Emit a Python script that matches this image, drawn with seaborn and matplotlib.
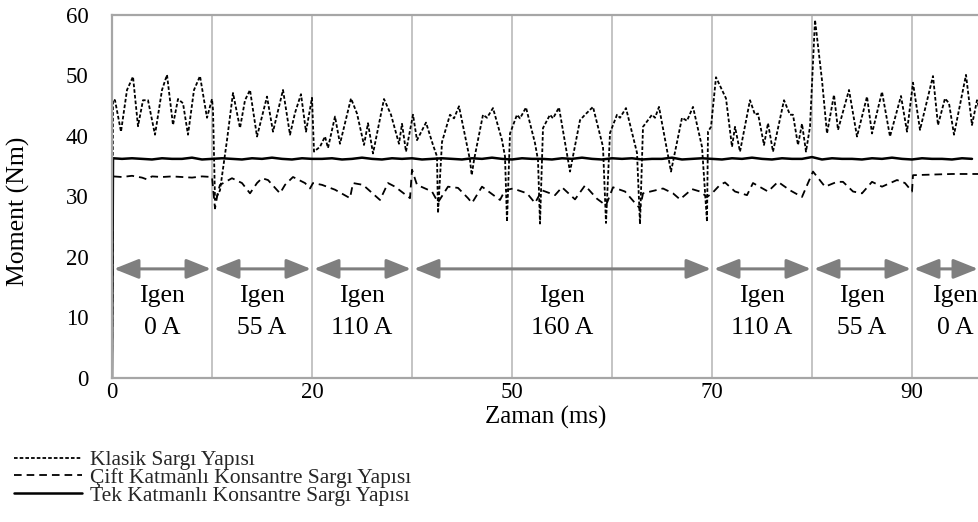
import matplotlib
matplotlib.use("Agg")
import matplotlib.pyplot as plt
import seaborn as sns
from matplotlib.lines import Line2D

# ---- data (x in grid units, one grid cell = 10) ----
klasik_t = [0, 0.1, 0.3, 0.9, 1.5, 2.1, 2.6, 3.1, 3.6, 4.3, 5.0, 5.5, 6.1, 6.6, 7.1, 7.6, 8.2, 8.8, 9.5, 10.0,
            10.1, 10.3, 10.8, 11.5, 12.1, 12.8, 13.3, 13.8, 14.5, 15.5, 16.1, 17.1, 17.8, 18.3, 18.9, 19.4, 20.0,
            20.2, 20.8, 21.3, 21.6, 22.3, 22.8, 23.9, 24.5, 25.2, 25.6, 26.1, 27.2, 27.9, 28.7, 29.0, 29.4, 30.1,
            30.5, 31.4, 32.1, 32.5, 32.6, 33.0, 33.8, 34.2, 34.7, 35.8, 35.97, 36.2, 37.1, 37.5, 38.1, 39.0, 39.3, 39.5, 39.8,
            40.5, 40.8, 41.4, 42.3, 42.6, 42.8, 43.1, 43.8, 44.1, 44.7, 45.8, 46.8, 47.3, 48.1, 49.1, 49.4, 49.8,
            50.5, 50.8, 51.4, 52.5, 52.8, 53.1, 54.0, 54.3, 54.7, 55.9, 57.0, 57.5, 58.1, 59.0, 59.5, 59.6, 59.9,
            60.4, 61.4, 62.0, 62.3, 62.8, 63.8, 64.3, 64.6, 65.2, 65.6, 66.1, 67.2, 67.8, 68.1, 68.6, 69.0, 69.4, 69.8,
            70.3, 71.0, 71.5, 72.2, 72.6, 73.7, 74.5, 75.5, 76.0, 77.0, 77.8, 78.9, 79.5, 80.1, 80.8, 82.1, 82.6,
            83.3, 83.7, 84.2, 85.4, 86.0, 86.5, 86.8]
klasik_v = [0, 46.0, 45.9, 40.7, 47.6, 49.8, 41.6, 45.9, 45.9, 40.2, 47.6, 50.1, 41.8, 46.1, 45.4, 40.2, 47.6, 49.9, 43.0, 46.1,
            44.3, 29.4, 31.0, 39.3, 47.1, 41.3, 45.9, 47.6, 39.9, 46.5, 40.7, 47.6, 40.2, 43.8, 46.9, 40.7, 46.3,
            37.4, 38.2, 39.9, 38.0, 43.2, 38.7, 46.2, 43.7, 38.5, 42.1, 37.1, 46.1, 43.5, 38.7, 42.0, 37.4, 43.5,
            39.3, 42.2, 38.5, 36.6, 27.2, 39.0, 43.5, 42.9, 44.9, 36.0, 33.5, 36.0, 43.5, 43.0, 44.6, 39.3, 36.6, 25.8, 40.4,
            43.5, 42.9, 44.7, 38.8, 36.0, 25.5, 41.3, 43.5, 42.9, 44.7, 34.1, 42.6, 43.5, 44.8, 38.2, 25.6, 40.5,
            43.5, 43.0, 44.6, 37.2, 25.4, 41.5, 43.5, 43.0, 44.8, 34.1, 43.0, 42.5, 44.8, 38.2, 25.8, 40.7, 41.5,
            49.7, 46.2, 38.2, 41.5, 37.4, 45.9, 43.5, 43.7, 38.5, 42.1, 37.4, 45.9, 43.5, 43.5, 38.5, 42.0, 37.4, 41.5,
            59.2, 49.2, 40.4, 46.8, 41.0, 47.6, 39.9, 46.5, 40.4, 47.3, 39.9, 46.6, 40.7, 48.8, 41.0, 49.9, 41.8,
            46.2, 45.4, 40.2, 50.1, 41.8, 45.9, 44.0]

cift_t = [0, 0.1, 1, 2, 3, 3.5, 4, 5, 6, 7, 8, 9, 10.0, 10.3,
          10.6, 10.8, 12.0, 13.0, 13.8, 14.5, 15.0, 15.6, 16.8, 17.3, 18.1, 19.3, 19.8,
          20.1, 21.0, 22.3, 23.8, 24.1, 25.1, 26.8, 27.6, 28.3, 29.8,
          30.0, 30.5, 32.0, 32.6, 33.6, 34.6, 35.6, 36.0, 37.0, 38.8, 39.3,
          40.1, 41.5, 42.3, 43.0, 44.3, 45.0, 46.3, 47.3, 48.5, 49.4,
          50.1, 51.3, 52.3, 52.8, 53.1, 55.1, 56.1, 56.8, 58.0, 58.8, 59.5,
          60.0, 60.8, 61.3, 62.3, 63.5, 64.1, 65.6, 66.6, 67.8, 69.0, 69.6,
          70.1, 71.3, 72.5, 73.1, 74.1, 75.0, 76.0, 77.0, 78.5, 79.3, 80.0,
          80.1, 82.0, 84.0, 86.8]
cift_v = [0, 33.3, 33.2, 33.4, 33.1, 32.8, 33.3, 33.2, 33.3, 33.2, 33.1, 33.3, 33.2, 28.0,
          30.8, 31.9, 33.0, 32.2, 30.5, 32.2, 33.0, 32.7, 30.5, 31.9, 33.2, 32.2, 31.3,
          32.2, 31.9, 31.1, 29.7, 32.2, 31.9, 29.4, 32.2, 31.6, 29.7,
          34.4, 31.9, 30.8, 29.0, 31.6, 31.4, 29.7, 28.9, 31.6, 29.4, 31.0,
          31.3, 30.5, 28.9, 31.0, 30.2, 31.5, 29.5, 31.8, 29.6, 28.5,
          31.5, 30.8, 28.9, 28.0, 30.5, 31.3, 30.5, 29.5, 31.2, 30.8, 29.9,
          30.5, 31.9, 32.3, 30.8, 30.2, 32.2, 30.8, 32.4, 31.0, 29.9, 32.2,
          34.1, 31.6, 32.4, 32.4, 30.8, 30.5, 32.4, 31.6, 32.7, 32.2, 30.8,
          33.5, 33.6, 33.7, 33.7]

tek_t = [0, 0.1] + list(range(1, 87))
tek_v = [0, 36.3,
         36.2, 36.3, 36.2, 36.1, 36.3, 36.2, 36.2, 36.4, 36.1, 36.2,
         36.3, 36.2, 36.1, 36.3, 36.2, 36.4, 36.2, 36.1, 36.3, 36.2,
         36.2, 36.3, 36.1, 36.2, 36.4, 36.2, 36.1, 36.3, 36.2, 36.3,
         36.1, 36.2, 36.3, 36.2, 36.1, 36.3, 36.2, 36.4, 36.2, 36.1,
         36.3, 36.2, 36.2, 36.1, 36.3, 36.2, 36.4, 36.2, 36.1, 36.3,
         36.2, 36.3, 36.1, 36.2, 36.2, 36.4, 36.1, 36.2, 36.3, 36.2,
         36.1, 36.3, 36.2, 36.4, 36.2, 36.1, 36.3, 36.2, 36.2, 36.5,
         36.1, 36.3, 36.2, 36.2, 36.1, 36.3, 36.2, 36.4, 36.2, 36.1,
         36.3, 36.2, 36.2, 36.1, 36.3, 36.2]

series_labels = ["Klasik Sargı Yapısı",
                 "Çift Katmanlı Konsantre Sargı Yapısı",
                 "Tek Katmanlı Konsantre Sargı Yapısı"]

tick_pos = [0, 20, 40, 60, 80]
tick_labels = ["0", "20", "50", "70", "90"]
grid_pos = [10, 20, 30, 40, 50, 60, 70, 80]

seg_start = [0, 10, 20, 30, 60, 70, 80]
seg_end = [10, 20, 30, 60, 70, 80, 86.7]
seg_text_x = [5, 15, 25, 45, 65, 75, 84.3]
seg_labels = ["0 A", "55 A", "110 A", "160 A", "110 A", "55 A", "0 A"]

# ---- styling ----
sns.set_theme(style="white")
plt.rcParams["font.family"] = ["Liberation Serif", "DejaVu Serif"]
plt.rcParams["lines.scale_dashes"] = False

fig = plt.figure(figsize=(9.79, 5.22), dpi=100)
ax = fig.add_axes([112 / 979, 144.3 / 522, 867 / 979, 362.7 / 522])

grid_c = "#b4b4b4"
for g in grid_pos:
    ax.axvline(g, color=grid_c, lw=1.1, zorder=0)

styles = [dict(lw=1.3, linestyle=(0, (2.6, 1.5))),
          dict(lw=1.3, linestyle=(0, (5.5, 3.6))),
          dict(lw=1.8, linestyle="-")]

sns.lineplot(x=klasik_t, y=klasik_v, ax=ax, color="black", estimator=None, sort=False, **styles[0])
sns.lineplot(x=cift_t, y=cift_v, ax=ax, color="black", estimator=None, sort=False, **styles[1])
sns.lineplot(x=tek_t, y=tek_v, ax=ax, color="black", estimator=None, sort=False, **styles[2])

# Igen arrows and labels
arrow_c = "#7f7f7f"
for s, e, tx, lab in zip(seg_start, seg_end, seg_text_x, seg_labels):
    ax.annotate("", xy=(e - 0.1, 18), xytext=(s + 0.2, 18),
                arrowprops=dict(arrowstyle="<|-|>,head_length=0.75,head_width=0.3",
                                color=arrow_c, lw=2.2, shrinkA=0, shrinkB=0,
                                mutation_scale=20),
                annotation_clip=False, zorder=3)
    ax.text(tx, 12.6, "Igen", ha="center", va="baseline", fontsize=18.5, color="black")
    ax.text(tx, 7.3, lab, ha="center", va="baseline", fontsize=18.5, color="black")

ax.set_xlim(0, 86.7)
ax.set_ylim(0, 60)
ax.set_xticks(tick_pos)
ax.set_xticklabels(tick_labels)
ax.set_yticks([0, 10, 20, 30, 40, 50, 60])
ax.tick_params(axis="both", length=0, labelsize=16.5, colors="black")
ax.tick_params(axis="y", pad=17)
ax.tick_params(axis="x", pad=3)

spine_c = "#a6a6a6"
for side in ["left", "bottom", "top"]:
    ax.spines[side].set_color(spine_c)
    ax.spines[side].set_linewidth(1.6)
ax.spines["right"].set_visible(False)

ax.set_xlabel("Zaman (ms)", fontsize=18, color="black")
ax.set_ylabel("Moment (Nm)", fontsize=18.5, color="black")
ax.xaxis.set_label_coords(0.5, -0.077)
ax.yaxis.set_label_coords(-0.095, 0.46)

handles = [Line2D([], [], color="black", **st) for st in styles]
fig.legend(handles, series_labels, loc="upper left", bbox_to_anchor=(14 / 979, 1 - 450 / 522),
           frameon=False, fontsize=15.5, handlelength=3.15, handletextpad=0.37,
           labelspacing=-0.1, borderpad=0, borderaxespad=0)

fig.savefig("out.png", dpi=100)
